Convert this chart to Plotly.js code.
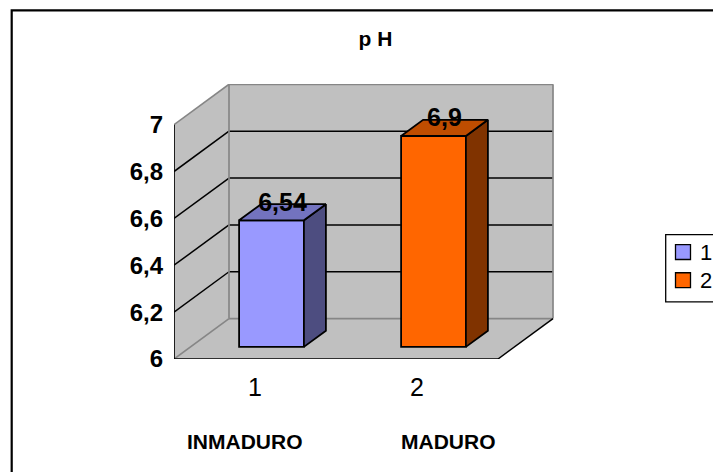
<!DOCTYPE html>
<html>
<head>
<meta charset="utf-8">
<script src="https://cdn.plot.ly/plotly-3.0.1.min.js"></script>
<style>html,body{margin:0;padding:0;background:#fff;overflow:hidden}#c{width:713px;height:472px}</style>
</head>
<body>
<div id="c"></div>
<script>
var categories = [1, 2];
var seriesNames = ['1', '2'];
var phValues = [6.54, 6.9];
var valueLabels = ['6,54', '6,9'];
var yTicks = [6, 6.2, 6.4, 6.6, 6.8, 7];
var yTickLabels = ['6', '6,2', '6,4', '6,6', '6,8', '7'];
var groupLabels = ['INMADURO', 'MADURO'];
var frontColors = ['#9999FF', '#FF6600'];
var sideColors = ['#4D4D80', '#803300'];
var topColors = ['#7373BF', '#BF4D00'];

var W = 713, H = 472;
var L = 174, R = 554, T = 83.5, B = 359.3;
var pxPerCat = 162, pxPerVal = 235;
var xMin = 0.5, xMax = xMin + (R - L) / pxPerCat;
var yMin = 6, yMax = yMin + (B - T) / pxPerVal;
var DX = 55 / pxPerCat, DY = 40.5 / pxPerVal;   // full depth of the floor, in axis units
var barW = 0.4, nearD = 0.3, farD = 0.7;
var xEnd = 2.5, yTop = 7;

function px(p) { return (p - L) / (R - L); }          // page pixel to paper x
function py(p) { return (B - p) / (B - T); }          // page pixel to paper y

function line(x0, y0, x1, y1, color, w, layer) {
  return {type: 'line', xref: 'x', yref: 'y', x0: x0, y0: y0, x1: x1, y1: y1,
          line: {color: color, width: w}, layer: layer || 'below'};
}
var shapes = [];
// walls and floor
shapes.push({type: 'path', xref: 'x', yref: 'y', layer: 'below', fillcolor: '#C0C0C0', line: {width: 0},
  path: 'M' + xMin + ',' + yMin + 'L' + (xMin + DX) + ',' + (yMin + DY) + 'L' + (xMin + DX) + ',' + (yTop + DY) + 'L' + xMin + ',' + yTop + 'Z'});
shapes.push({type: 'path', xref: 'x', yref: 'y', layer: 'below', fillcolor: '#C0C0C0', line: {width: 0},
  path: 'M' + (xMin + DX) + ',' + (yMin + DY) + 'L' + (xEnd + DX) + ',' + (yMin + DY) + 'L' + (xEnd + DX) + ',' + (yTop + DY) + 'L' + (xMin + DX) + ',' + (yTop + DY) + 'Z'});
shapes.push({type: 'path', xref: 'x', yref: 'y', layer: 'below', fillcolor: '#C0C0C0', line: {width: 0},
  path: 'M' + xMin + ',' + yMin + 'L' + xEnd + ',' + yMin + 'L' + (xEnd + DX) + ',' + (yMin + DY) + 'L' + (xMin + DX) + ',' + (yMin + DY) + 'Z'});
// gridlines
yTicks.forEach(function (t) {
  if (t === yMin || t === yTop) return;
  shapes.push(line(xMin, t, xMin + DX, t + DY, '#000', 1.5));
  shapes.push(line(xMin + DX, t + DY, xEnd + DX, t + DY, '#000', 1.5));
});
// grey edges
var g = '#868686';
shapes.push(line(xMin, yTop, xMin + DX, yTop + DY, g, 1.7));
shapes.push(line(xMin + DX, yTop + DY, xEnd + DX, yTop + DY, g, 1.7));
shapes.push(line(xEnd + DX, yTop + DY, xEnd + DX, yMin + DY, g, 1.7));
shapes.push(line(xMin + DX, yTop + DY, xMin + DX, yMin + DY, g, 1.7));
shapes.push(line(xMin + DX, yMin + DY, xEnd + DX, yMin + DY, g, 1.7));
shapes.push(line(xMin, yMin, xMin + DX, yMin + DY, g, 1.7));
// axes
shapes.push(line(xMin, yMin, xMin, yTop, '#000', 1.7));
shapes.push(line(xMin, yMin, xEnd, yMin, '#000', 1.7));
shapes.push(line(xEnd, yMin, xEnd + DX, yMin + DY, '#000', 1.5));
// tick marks
yTicks.forEach(function (t) {
  if (t === yTop) return;
  shapes.push({type: 'line', xref: 'x', yref: 'y', xsizemode: 'pixel', xanchor: xMin, x0: -5, x1: 0, y0: t, y1: t,
    line: {color: '#000', width: 1.7}, layer: 'below'});
});
[0.5, 1.5, 2.5].forEach(function (x) {
  shapes.push({type: 'line', xref: 'x', yref: 'y', ysizemode: 'pixel', yanchor: yMin, y0: 0, y1: -5, x0: x, x1: x,
    line: {color: '#000', width: 1.7}, layer: 'below'});
});
// chart frame: its right and bottom edges lie outside the picture
shapes.push({type: 'rect', xref: 'paper', yref: 'paper', layer: 'below',
  x0: px(11.7), x1: px(W + 20), y0: py(H + 20), y1: py(9.7),
  line: {color: '#000', width: 2.2}, fillcolor: 'rgba(0,0,0,0)'});
// legend box and keys, open at the right edge of the picture
shapes.push({type: 'rect', xref: 'paper', yref: 'paper', layer: 'below',
  x0: px(665.7), x1: px(W + 20), y0: py(302), y1: py(234.5),
  line: {color: '#000', width: 1.3}, fillcolor: '#fff'});
var legendRows = [252, 280.3];
seriesNames.forEach(function (s, i) {
  shapes.push({type: 'rect', xref: 'paper', yref: 'paper', layer: 'below',
    x0: px(675.5), x1: px(690.5), y0: py(legendRows[i] + 7.5), y1: py(legendRows[i] - 7.5),
    line: {color: '#000', width: 1.3}, fillcolor: frontColors[i]});
});

var traces = [];
categories.forEach(function (c, i) {
  var x0 = c - barW / 2 + nearD * DX, x1 = x0 + barW;
  var b = yMin + nearD * DY, v = phValues[i] + nearD * DY;
  var d = (farD - nearD);
  traces.push({type: 'bar', x: [c + nearD * DX], y: [phValues[i] - yMin], base: [b], width: [barW],
    name: seriesNames[i], marker: {color: frontColors[i], line: {color: '#000', width: 1.8}}, hoverinfo: 'skip'});
  traces.push({type: 'scatter', mode: 'lines', showlegend: false, hoverinfo: 'skip', fill: 'toself', fillcolor: sideColors[i],
    x: [x1, x1 + d * DX, x1 + d * DX, x1, x1], y: [b, b + d * DY, v + d * DY, v, b], line: {color: '#000', width: 1.8}});
  traces.push({type: 'scatter', mode: 'lines', showlegend: false, hoverinfo: 'skip', fill: 'toself', fillcolor: topColors[i],
    x: [x0, x1, x1 + d * DX, x0 + d * DX, x0], y: [v, v, v + d * DY, v + d * DY, v], line: {color: '#000', width: 1.8}});
});
traces.push({type: 'scatter', mode: 'text', showlegend: false, hoverinfo: 'skip',
  x: categories.map(function (c) { return c + 0.5 * DX; }),
  y: phValues.map(function (v) { return v + 0.5 * DY - 4.5 / pxPerVal; }),
  text: valueLabels, textposition: 'top center',
  textfont: {family: 'Liberation Sans', size: 25, color: '#000'}, texttemplate: '<b>%{text}</b>'});

var groupCentres = [244.5, 448];
var annotations = groupLabels.map(function (t, i) {
  return {xref: 'paper', yref: 'paper', x: px(groupCentres[i]), y: py(442), text: '<b>' + t + '</b>',
    showarrow: false, xanchor: 'center', yanchor: 'middle',
    font: {family: 'Liberation Sans', size: 21, color: '#000'}};
}).concat(seriesNames.map(function (s, i) {
  return {xref: 'paper', yref: 'paper', x: px(698), y: py(legendRows[i]), text: s,
    showarrow: false, xanchor: 'left', yanchor: 'middle',
    font: {family: 'Liberation Sans', size: 22, color: '#000'}};
}));

var layout = {
  width: W, height: H, paper_bgcolor: '#fff', plot_bgcolor: 'rgba(0,0,0,0)',
  margin: {l: L, r: W - R, t: T, b: H - B, autoexpand: false, pad: 0},
  showlegend: false, barmode: 'overlay',
  title: {text: '<b>p H</b>', x: 375.5 / W, xanchor: 'center', y: 1 - 39 / H, yanchor: 'middle',
    font: {family: 'Liberation Sans', size: 21, color: '#000'}},
  xaxis: {range: [xMin, xMax], tickmode: 'array', tickvals: categories, ticktext: categories.map(String),
    ticks: '', showgrid: false, zeroline: false, showline: false, ticklabelstandoff: 11,
    tickfont: {family: 'Liberation Sans', size: 25, color: '#000'}, fixedrange: true},
  yaxis: {range: [yMin, yMax], tickmode: 'array', tickvals: yTicks, ticktext: yTickLabels.map(function (s) { return '<b>' + s + '</b>'; }),
    ticks: '', showgrid: false, zeroline: false, showline: false, ticklabelstandoff: 10,
    tickfont: {family: 'Liberation Sans', size: 24, color: '#000'}, fixedrange: true},
  shapes: shapes, annotations: annotations
};
Plotly.newPlot('c', traces, layout, {staticPlot: true, displayModeBar: false});
</script>
</body>
</html>
